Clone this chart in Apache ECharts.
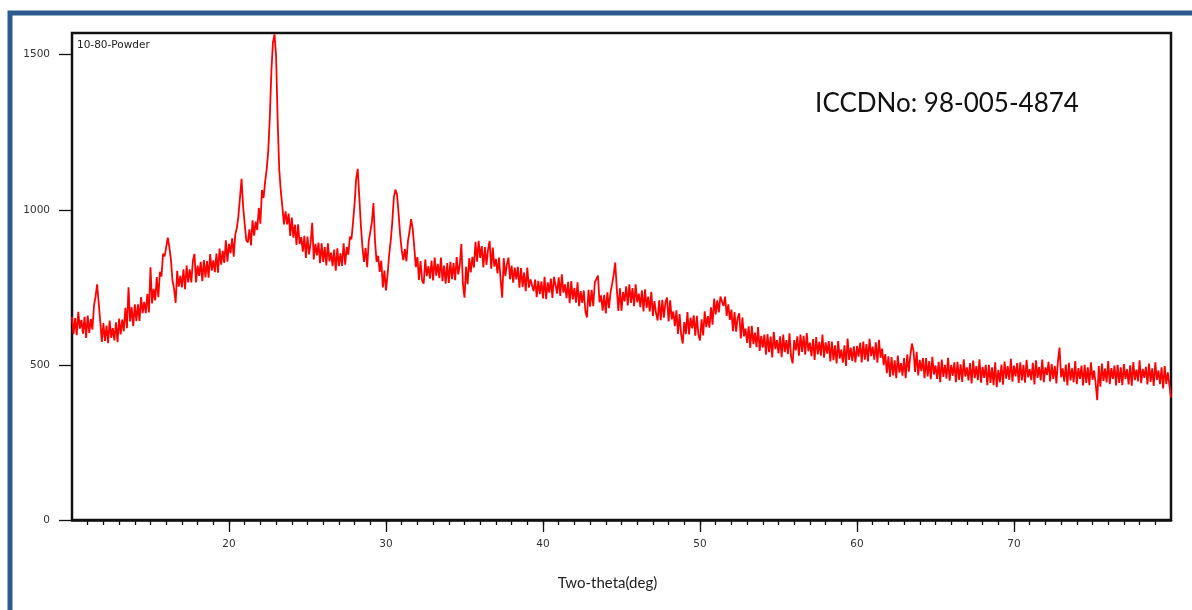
<!DOCTYPE html>
<html>
<head>
<meta charset="utf-8">
<script src="https://cdn.jsdelivr.net/npm/echarts@6/dist/echarts.min.js"></script>
<style>
    html, body {margin: 0; padding: 0; background: #fff;}
    #charts_xrd {width: 1192px; height: 610px;}
</style>
</head>
<body>
<div id="charts_xrd"></div>
<script>
// scan step of the pattern, degrees two-theta
var stepDeg = 0.1;

// intensity, one array per 5 degrees
var counts10 = [655, 599, 651, 596, 671, 617, 645, 601, 655, 587,
    659, 603, 648, 614, 690, 720, 760, 700, 640, 574,
    635, 577, 627, 570, 643, 587, 619, 579, 637, 573,
    649, 598, 646, 609, 684, 618, 750, 640, 686, 625,
    695, 641, 695, 642, 719, 667, 703, 667, 729, 669];
var counts15 = [815, 698, 745, 708, 783, 718, 800, 785, 858, 850,
    880, 910, 880, 840, 772, 745, 700, 803, 752, 787,
    750, 808, 744, 820, 766, 808, 766, 836, 858, 766,
    820, 787, 832, 770, 838, 782, 835, 781, 857, 804,
    837, 799, 859, 797, 875, 823, 868, 829, 902, 833];
var counts20 = [890, 860, 908, 849, 920, 942, 980, 1040, 1100, 1010,
    955, 902, 895, 937, 885, 966, 917, 962, 935, 1006,
    955, 1064, 1038, 1090, 1130, 1190, 1300, 1447, 1540, 1566,
    1495, 1286, 1130, 1060, 1010, 953, 995, 953, 988, 916,
    975, 910, 952, 887, 953, 890, 912, 865, 916, 845];
var counts25 = [914, 856, 894, 958, 840, 890, 853, 894, 828, 892,
    832, 880, 821, 892, 834, 862, 818, 872, 804, 876,
    818, 860, 819, 892, 823, 880, 855, 913, 905, 960,
    1020, 1100, 1132, 1040, 950, 880, 832, 877, 815, 898,
    900, 960, 1022, 900, 832, 852, 800, 836, 750, 804];
var counts30 = [740, 790, 855, 900, 960, 1040, 1065, 1050, 990, 920,
    870, 838, 873, 834, 900, 930, 970, 940, 880, 815,
    848, 774, 835, 772, 762, 840, 786, 818, 778, 836,
    772, 846, 788, 826, 780, 846, 770, 820, 762, 828,
    764, 832, 776, 828, 773, 848, 792, 822, 890, 760];
var counts35 = [717, 816, 760, 844, 798, 848, 814, 897, 833, 900,
    845, 883, 814, 880, 822, 872, 900, 810, 878, 817,
    842, 795, 846, 775, 717, 844, 786, 824, 846, 776,
    820, 765, 814, 776, 816, 749, 812, 751, 798, 738,
    814, 749, 776, 770, 738, 775, 718, 771, 728, 769];
var counts40 = [714, 784, 712, 766, 733, 778, 716, 784, 781, 730,
    782, 722, 792, 733, 760, 715, 768, 699, 770, 711,
    748, 701, 766, 689, 738, 700, 740, 673, 653, 742,
    688, 742, 689, 766, 770, 788, 702, 724, 675, 726,
    666, 734, 683, 733, 760, 790, 830, 745, 674, 747];
var counts45 = [675, 735, 705, 753, 692, 760, 700, 748, 689, 760,
    702, 730, 686, 740, 672, 744, 684, 720, 672, 736,
    658, 706, 667, 643, 708, 644, 710, 652, 702, 717,
    640, 708, 647, 672, 625, 676, 600, 664, 598, 569,
    638, 599, 670, 598, 652, 618, 660, 594, 658, 597];
var counts50 = [579, 647, 595, 673, 622, 657, 620, 686, 630, 714,
    663, 708, 669, 720, 723, 690, 720, 658, 695, 645,
    678, 609, 670, 607, 652, 666, 585, 653, 592, 617,
    571, 624, 555, 626, 567, 604, 557, 622, 545, 594,
    556, 598, 533, 599, 541, 591, 524, 607, 551, 580];
var counts55 = [537, 592, 525, 598, 541, 580, 535, 602, 526, 505,
    580, 547, 592, 530, 598, 542, 594, 533, 603, 544,
    572, 528, 583, 516, 590, 534, 574, 530, 598, 523,
    573, 536, 577, 511, 575, 515, 563, 505, 577, 520,
    549, 507, 563, 497, 585, 516, 556, 513, 560, 508];
var counts60 = [561, 527, 571, 508, 575, 517, 567, 511, 584, 528,
    559, 517, 573, 507, 581, 523, 553, 499, 535, 473,
    528, 461, 525, 466, 515, 457, 530, 475, 506, 465,
    522, 457, 533, 478, 532, 569, 545, 477, 542, 466,
    516, 480, 522, 457, 522, 463, 512, 454, 526, 469];
var counts65 = [498, 455, 510, 444, 517, 461, 500, 456, 523, 449,
    500, 465, 508, 444, 510, 452, 502, 445, 518, 462,
    492, 450, 506, 440, 514, 457, 496, 451, 518, 443,
    494, 458, 500, 435, 500, 442, 492, 435, 508, 428,
    484, 444, 501, 436, 511, 456, 496, 452, 520, 446];
var counts70 = [498, 463, 506, 442, 508, 450, 500, 443, 516, 460,
    486, 451, 507, 437, 515, 458, 493, 450, 517, 444,
    492, 468, 510, 447, 503, 455, 497, 440, 512, 556,
    460, 489, 446, 501, 434, 507, 450, 489, 444, 512,
    438, 490, 455, 498, 434, 500, 442, 492, 435, 508];
var counts75 = [452, 482, 440, 386, 496, 430, 504, 448, 488, 444,
    512, 438, 490, 455, 498, 434, 500, 442, 492, 435,
    503, 455, 486, 437, 499, 433, 509, 451, 485, 447,
    515, 441, 487, 458, 494, 437, 504, 445, 489, 432,
    508, 452, 482, 438, 492, 424, 496, 438, 476, 435,
    395];

var yTickValues = [0, 500, 1000, 1500];
var xMajorTicks = [20, 30, 40, 50, 60, 70];

function toPairs(start, counts) {
    return counts.map(function (c, i) {
        return [+(start + i * stepDeg).toFixed(1), c];
    });
}

var scanData = [].concat(
    toPairs(10, counts10), toPairs(15, counts15), toPairs(20, counts20),
    toPairs(25, counts25), toPairs(30, counts30), toPairs(35, counts35),
    toPairs(40, counts40), toPairs(45, counts45), toPairs(50, counts50),
    toPairs(55, counts55), toPairs(60, counts60), toPairs(65, counts65),
    toPairs(70, counts70), toPairs(75, counts75)
);

var xMinorTicks = [];
for (var d = 11; d < 80; d++) {
    xMinorTicks.push(d);
}

var xrdChart = echarts.init(document.getElementById('charts_xrd'));
var axisFont = {fontFamily: 'DejaVu Sans', fontSize: 10.5, color: '#333'};

var option = {
    backgroundColor: '#fff',
    animation: false,
    grid: {
        left: 72,
        right: 21,
        top: 33,
        bottom: 90,
        show: true,
        borderColor: '#111',
        borderWidth: 2.5
    },
    xAxis: [
        {
            type: 'value',
            min: 10,
            max: 80,
            position: 'bottom',
            axisLine: {show: true, lineStyle: {color: '#111', width: 2.5}},
            axisTick: {show: true, customValues: xMinorTicks, length: 5, lineStyle: {color: '#111', width: 1.3}},
            axisLabel: {show: false},
            splitLine: {show: false}
        },
        {
            type: 'value',
            min: 10,
            max: 80,
            position: 'bottom',
            axisLine: {show: false},
            axisTick: {show: true, customValues: xMajorTicks, length: 12, lineStyle: {color: '#111', width: 1.3}},
            axisLabel: Object.assign({customValues: xMajorTicks, margin: 19}, axisFont),
            splitLine: {show: false},
            name: 'Two-theta(deg)',
            nameLocation: 'middle',
            nameGap: 56,
            nameTextStyle: {fontFamily: 'Lato', fontSize: 15, color: '#222', padding: [0, 28, 0, 0]}
        }
    ],
    yAxis: [
        {
            type: 'value',
            min: 0,
            max: 1570,
            axisLine: {show: true, lineStyle: {color: '#111', width: 2}},
            axisTick: {show: true, customValues: yTickValues, length: 13, lineStyle: {color: '#111', width: 1.3}},
            axisLabel: Object.assign({
                customValues: yTickValues,
                margin: 22,
                padding: [8, 0, 0, 0],
                formatter: function (v) {
                    return String(v);
                }
            }, axisFont),
            splitLine: {show: false}
        }
    ],
    graphic: [
        {
            type: 'rect',
            shape: {x: 10, y: 13, width: 1400, height: 1000},
            style: {fill: null, stroke: '#2C5A8F', lineWidth: 5},
            silent: true
        },
        {
            type: 'text',
            left: 77,
            top: 40,
            style: {text: '10-80-Powder', fontFamily: 'DejaVu Sans', fontSize: 10.5, fill: '#222'}
        },
        {
            type: 'text',
            x: 947,
            y: 104,
            style: {
                text: 'ICCDNo: 98-005-4874',
                fontFamily: 'Lato',
                fontSize: 26,
                fill: '#111',
                align: 'center',
                verticalAlign: 'middle'
            }
        }
    ],
    series: [
        {
            name: '10-80-Powder',
            type: 'line',
            xAxisIndex: 0,
            data: scanData,
            showSymbol: false,
            lineStyle: {color: '#ff0000', width: 1.8},
            z: 1
        }
    ]
};

xrdChart.setOption(option);
</script>
</body>
</html>
